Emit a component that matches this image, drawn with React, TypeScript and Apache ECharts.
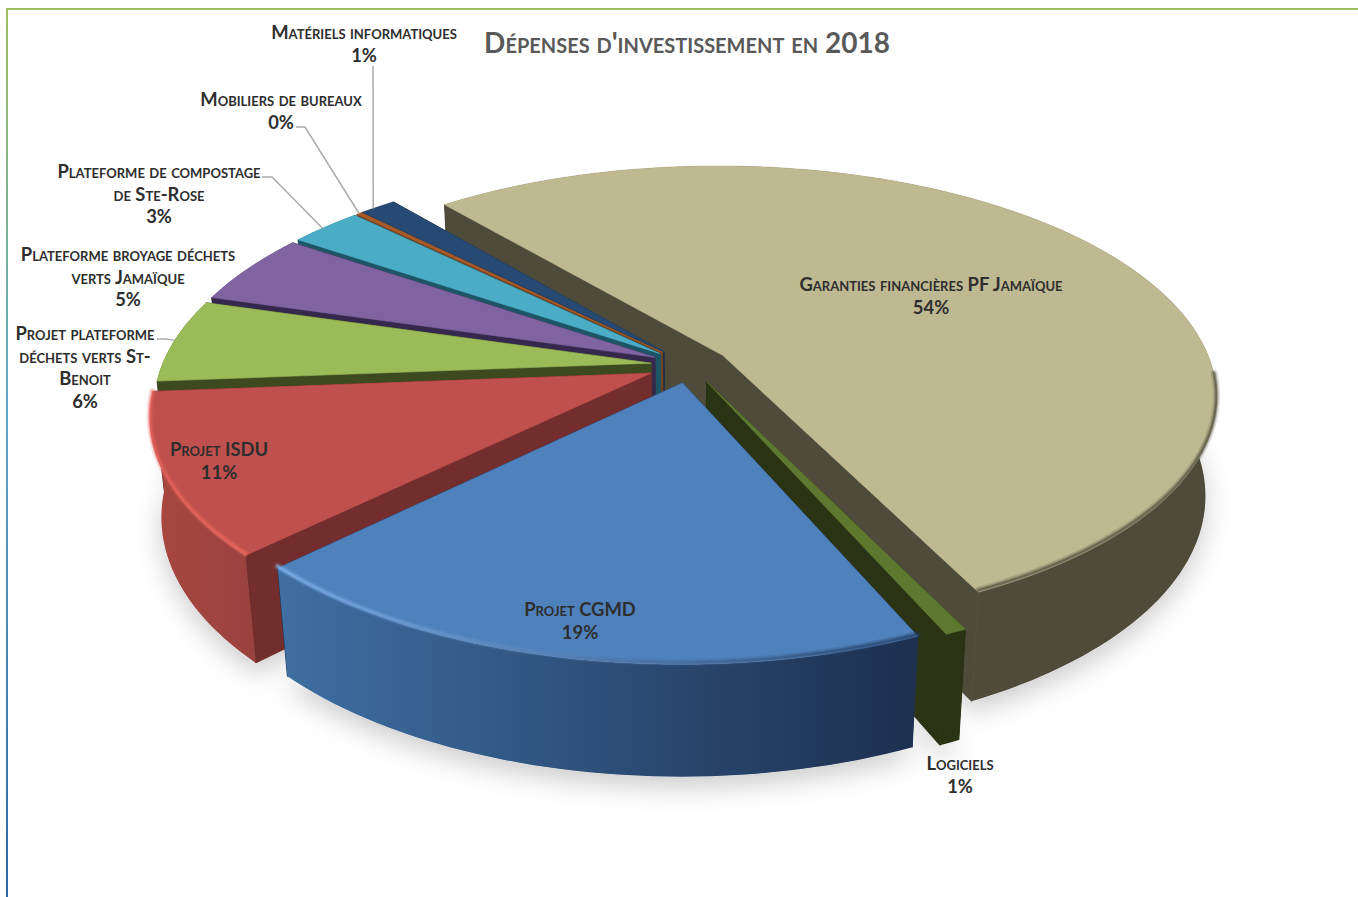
import React, { useEffect, useRef } from "react";
import * as echarts from "echarts";

const chartTitle = "Dépenses d'investissement en 2018";

// Slices in clockwise order, starting from the large back slice.
const categories = [
  "Garanties financières PF Jamaïque",
  "Logiciels",
  "Projet CGMD",
  "Projet ISDU",
  "Projet plateforme\ndéchets verts St-\nBenoit",
  "Plateforme broyage déchets\nverts Jamaïque",
  "Plateforme de compostage\nde Ste-Rose",
  "Mobiliers de bureaux",
  "Matériels informatiques",
];
const values = [53.9, 0.6, 19.2, 11.1, 5.8, 5.0, 2.8, 0.2, 1.4];

// How far each slice is pulled out of the pie, in pie radii.
const explode = [0.08, 0.08, 0.08, 0.087, 0.08, 0.08, 0.08, 0.08, 0.08];

// Back-to-front painting sequence (indices into categories).
const paintOrder = [0, 8, 7, 6, 5, 4, 3, 1, 2];

const topColors = ["#BFB992", "#5F7830", "#4F81BD", "#C0504D", "#9BBB59", "#8064A2", "#4BACC6", "#A85A2A", "#264A73"];
const cutColors = ["#4F4B3A", "#2A3314", "#1D3250", "#722D2C", "#3D4A20", "#35284C", "#1E5566", "#6E4420", "#1A2F4A"];
const wallColors = [
  ["#4F4B3A", "#4F4B3A"],
  ["#2A3314", "#2A3314"],
  ["#3F6FA3", "#1C2F4F"],
  ["#A8473F", "#9A423F"],
  ["#3D4A20", "#3D4A20"],
  ["#35284C", "#35284C"],
  ["#1E5566", "#1E5566"],
  ["#6E4420", "#6E4420"],
  ["#1A2F4A", "#1A2F4A"],
];
const rimColors = [
  ["#4F4B3A", "#4F4B3A"],
  null,
  ["#86B6F0", "#1F3A5E"],
  ["#E8635C", "#EE6A60"],
  null,
  null,
  null,
  null,
  null,
];

// Label anchors: horizontal centre and the top of the first text line.
const labelX = [931, 960, 580, 219, 85, 128, 159, 281, 364];
const labelY = [273, 752, 598, 438, 322, 243, 160, 88, 21];

// Leader lines: slice index, where along its rim the line lands, and the label-side points.
const leaders: { slice: number; along: number; points: number[][] }[] = [
  { slice: 8, along: 0.35, points: [[373, 66]] },
  { slice: 7, along: 0.5, points: [[296, 127], [305, 127]] },
  { slice: 6, along: 0.45, points: [[262, 177], [272, 177]] },
  { slice: 4, along: 0.5, points: [[157, 339], [166, 339]] },
];

// Pie model: unit radius in a ground plane, seen through a pinhole camera.
const CX = 690;
const CY = 365;
const FOCAL = 2494;
const DIST = 5.1;
const PITCH = (27.45 * Math.PI) / 180;
const THICKNESS = 0.23;
const START_DEG = -39.8;

const sinP = Math.sin(PITCH);
const cosP = Math.cos(PITCH);
const rad = (d: number) => (d * Math.PI) / 180;

function project(X: number, Y: number, Z: number): number[] {
  const w = DIST - Y * cosP - Z * sinP;
  return [CX + (FOCAL * X) / w, CY + (FOCAL * (Y * sinP - Z * cosP)) / w];
}

const total = values.reduce((a, b) => a + b, 0);
const spans: { a0: number; a1: number; mid: number }[] = [];
values.reduce((acc, v) => {
  const a1 = acc + (v / total) * 360;
  spans.push({ a0: acc, a1, mid: (acc + a1) / 2 });
  return a1;
}, START_DEG);

function slicePoint(i: number, deg: number, r: number, z: number) {
  const m = rad(spans[i].mid);
  const a = rad(deg);
  return project(
    explode[i] * Math.sin(m) + r * Math.sin(a),
    -explode[i] * Math.cos(m) - r * Math.cos(a),
    z,
  );
}

function arc(i: number, from: number, to: number, z: number) {
  const steps = Math.max(2, Math.ceil(Math.abs(to - from) / 1.5));
  const pts: number[][] = [];
  for (let k = 0; k <= steps; k++) pts.push(slicePoint(i, from + ((to - from) * k) / steps, 1, z));
  return pts;
}

function hGradient(c0: string, c1: string) {
  return new echarts.graphic.LinearGradient(0, 0, 1, 0, [
    { offset: 0, color: c0 },
    { offset: 1, color: c1 },
  ]);
}

function renderShadow(_params: any, api: any) {
  const i = api.value(0);
  const { a0, a1 } = spans[i];
  const points = [slicePoint(i, a0, 0, -THICKNESS), ...arc(i, a0, a1, -THICKNESS)];
  return {
    type: "polygon",
    shape: { points },
    silent: true,
    style: { fill: "#dcdcdc", shadowBlur: 26, shadowColor: "rgba(0,0,0,0.2)", shadowOffsetY: 10 },
  };
}

function renderSlice(_params: any, api: any) {
  const i = api.value(0);
  const { a0, a1 } = spans[i];
  const z = -THICKNESS;
  const cut = (deg: number) => ({
    type: "polygon",
    shape: {
      points: [slicePoint(i, deg, 0, 0), slicePoint(i, deg, 1, 0), slicePoint(i, deg, 1, z), slicePoint(i, deg, 0, z)],
    },
    style: { fill: cutColors[i], stroke: cutColors[i], lineWidth: 1 },
  });
  const topArc = arc(i, a0, a1, 0);
  const children: any[] = [
    cut(a0),
    cut(a1),
    {
      type: "polygon",
      shape: { points: [...topArc, ...arc(i, a1, a0, z)] },
      style: { fill: hGradient(wallColors[i][0], wallColors[i][1]) },
    },
    {
      type: "polygon",
      shape: { points: [slicePoint(i, a0, 0, 0), ...topArc] },
      style: { fill: topColors[i], stroke: topColors[i], lineWidth: 0.6 },
    },
  ];
  // Soft bevel along the part of the rim that faces the viewer.
  const rim = rimColors[i];
  const f0 = Math.max(a0, 95);
  const f1 = Math.min(a1, 265);
  if (rim && f1 > f0) {
    const points = arc(i, f0, f1, 0).map((p) => [p[0], p[1] - 2]);
    [[7, 0.2], [4, 0.35], [2, 0.5]].forEach(([w, o]) => {
      children.push({
        type: "polyline",
        shape: { points },
        style: { fill: "none", stroke: hGradient(rim[0], rim[1]), lineWidth: w, opacity: o, lineCap: "round" },
      });
    });
  }
  return { type: "group", children };
}

export default function App() {
  const ref = useRef<HTMLDivElement>(null);

  useEffect(() => {
    document.body.style.margin = "0";
    document.body.style.background = "#fff";
    const chart = echarts.init(ref.current!, undefined, { renderer: "svg" });
    const seriesData = paintOrder.map((i) => ({ name: categories[i], value: [i, values[i]] }));

    const labelFont = "small-caps bold 18.4px Lato";
    const graphics: any[] = [
      {
        type: "rect",
        shape: { x: 6, y: 8, width: 1352, height: 2 },
        style: { fill: "#9FBE5E" },
      },
      {
        type: "rect",
        shape: { x: 6, y: 8, width: 2, height: 889 },
        style: {
          fill: new echarts.graphic.LinearGradient(0, 0, 0, 1, [
            { offset: 0, color: "#9FBE5E" },
            { offset: 0.45, color: "#5FA8C8" },
            { offset: 1, color: "#2F66A8" },
          ]),
        },
      },
      {
        type: "text",
        x: 687,
        y: 41.5,
        style: {
          text: chartTitle,
          font: "small-caps bold 28px Lato",
          fill: "#595959",
          textAlign: "center",
          textVerticalAlign: "middle",
        },
      },
    ];
    leaders.forEach(({ slice, along, points }) => {
      const { a0, a1 } = spans[slice];
      graphics.push({
        type: "polyline",
        shape: { points: [...points, slicePoint(slice, a0 + (a1 - a0) * along, 1, 0)] },
        style: { fill: "none", stroke: "#ABABAB", lineWidth: 1.5 },
      });
    });
    categories.forEach((name, i) => {
      graphics.push({
        type: "text",
        x: labelX[i],
        y: labelY[i],
        style: {
          text: `${name}\n${Math.round(values[i])}%`,
          font: labelFont,
          fill: "#2E2E2E",
          lineHeight: 22.5,
          textAlign: "center",
          textVerticalAlign: "top",
        },
      });
    });

    chart.setOption({
      animation: false,
      backgroundColor: "#ffffff",
      graphic: { elements: graphics.map((g) => ({ ...g, z: 100 })) },
      series: [
        { type: "custom", coordinateSystem: "none", silent: true, z: 1, data: seriesData, renderItem: renderShadow },
        { type: "custom", coordinateSystem: "none", silent: true, z: 2, data: seriesData, renderItem: renderSlice },
      ],
    });
    return () => chart.dispose();
  }, []);

  return <div ref={ref} style={{ width: 1358, height: 897 }} />;
}
